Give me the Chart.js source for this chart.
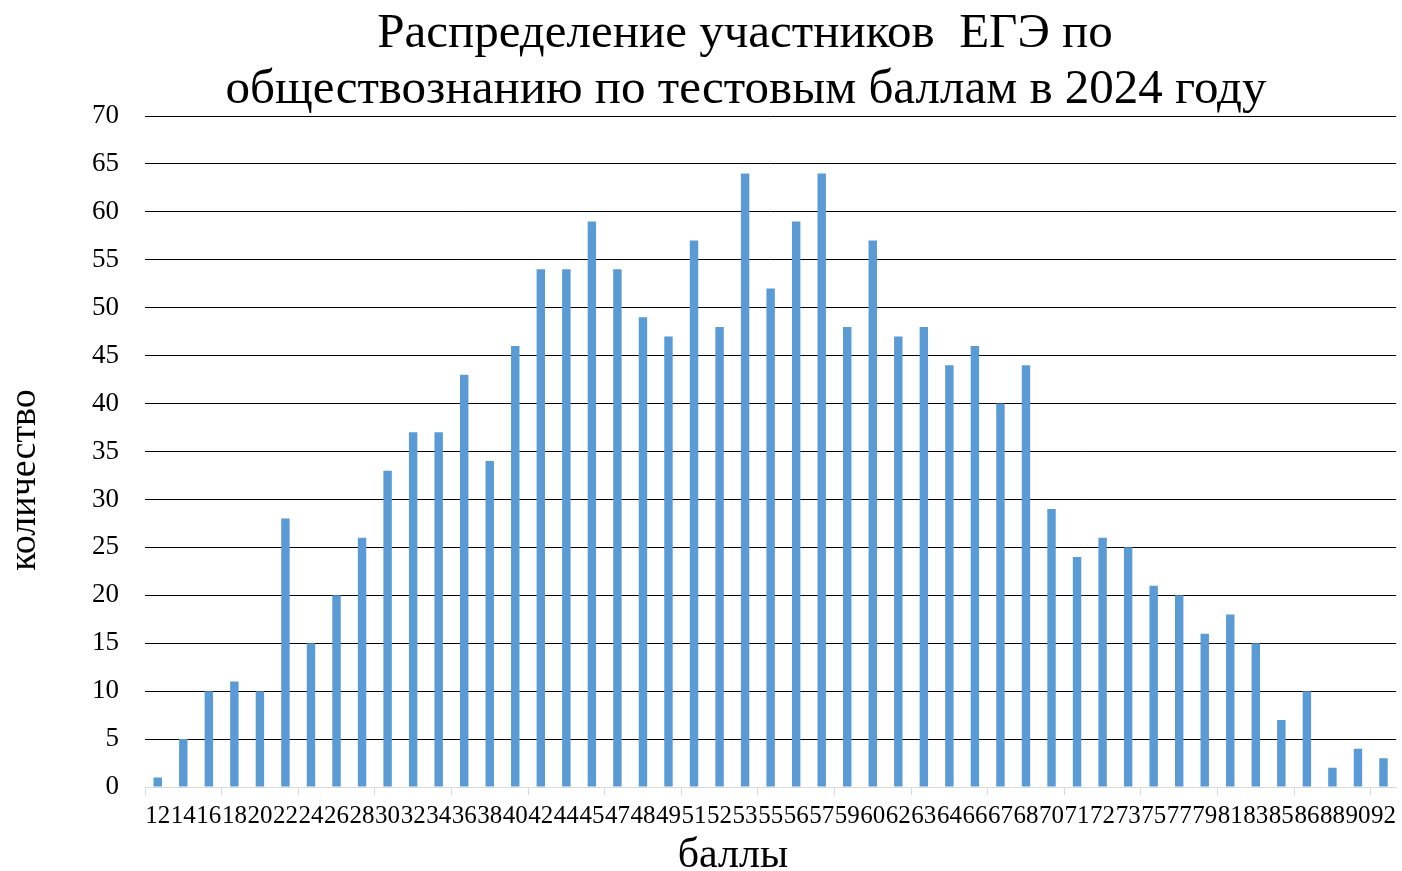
<!DOCTYPE html>
<html>
<head>
<meta charset="utf-8">
<script src="https://cdn.jsdelivr.net/npm/chart.js@4.4.1/dist/chart.umd.min.js"></script>
<style>
html,body{margin:0;padding:0;background:#fff;}
#wrap{width:1402px;height:871px;position:relative;}
</style>
</head>
<body>
<div id="wrap"><canvas id="c" width="1402" height="871"></canvas></div>
<script>
const categories = ['12','14','16','18','20','22','24','26','28','30','32','34','36','38','40','42','44','45','47','48','49','51','52','53','55','56','57','59','60','62','63','64','66','67','68','70','71','72','73','75','77','79','81','83','85','86','88','90','92'];
const counts = [1,5,10,11,10,28,15,20,26,33,37,37,43,34,46,54,54,59,54,49,47,57,48,64,52,59,64,48,57,47,48,44,46,40,44,29,24,26,25,21,20,16,18,15,7,10,2,4,3];
const titleLines = ['Распределение участников  ЕГЭ по', 'обществознанию по тестовым баллам в 2024 году'];
const xTitle = 'баллы';
const yTitle = 'количество';

const FONT = "'Liberation Serif', 'Times New Roman', serif";

const textPlugin = {
  id: 'customTexts',
  afterDraw(chart) {
    const ctx = chart.ctx;
    ctx.save();
    ctx.fillStyle = '#000';
    ctx.textAlign = 'center';
    ctx.textBaseline = 'alphabetic';
    // chart title
    ctx.font = '49px ' + FONT;
    ctx.fillText(titleLines[0], 745, 47);
    ctx.fillText(titleLines[1], 746, 103);
    // x axis title
    ctx.font = '42px ' + FONT;
    ctx.fillText(xTitle, 733, 867);
    // y axis title
    ctx.font = '38px ' + FONT;
    ctx.translate(35, 480);
    ctx.rotate(-Math.PI / 2);
    ctx.fillText(yTitle, 0, 0);
    ctx.restore();
  }
};

new Chart(document.getElementById('c'), {
  type: 'bar',
  data: {
    labels: categories,
    datasets: [{
      data: counts,
      backgroundColor: '#5b9bd5',
      borderWidth: 0,
      categoryPercentage: 1.0,
      barPercentage: 0.33
    }]
  },
  options: {
    responsive: false,
    animation: false,
    devicePixelRatio: 1,
    layout: { padding: { top: 116, right: 1, left: 0, bottom: 0 } },
    plugins: { legend: { display: false }, title: { display: false }, tooltip: { enabled: false } },
    scales: {
      x: {
        afterFit(scale) { scale.height = 84; },
        border: { display: true, color: '#d9d9d9', width: 1 },
        grid: {
          offset: true,
          drawOnChartArea: false,
          drawTicks: true,
          tickLength: 8,
          color: (c) => (c.index !== undefined && c.index % 3 === 0) ? '#d9d9d9' : 'rgba(0,0,0,0)'
        },
        ticks: {
          autoSkip: false, maxRotation: 0, minRotation: 0,
          color: '#000', padding: 6,
          font: { family: FONT, size: 25 }
        }
      },
      y: {
        afterFit(scale) { scale.width = 145; },
        min: 0, max: 70,
        border: { display: false },
        grid: {
          drawTicks: false,
          color: (c) => c.tick && c.tick.value === 0 ? 'rgba(0,0,0,0)' : '#000',
          lineWidth: 1
        },
        ticks: {
          stepSize: 5, color: '#000', padding: 26,
          font: { family: FONT, size: 27 }
        }
      }
    }
  },
  plugins: [textPlugin]
});
</script>
</body>
</html>
